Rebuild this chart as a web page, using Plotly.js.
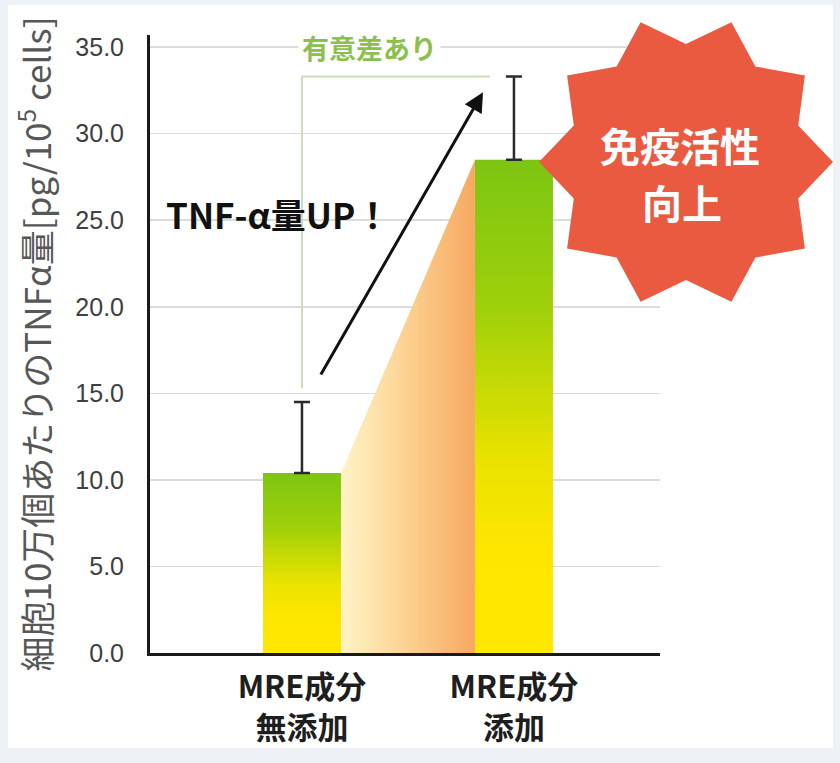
<!DOCTYPE html>
<html>
<head>
<meta charset="utf-8">
<script src="https://cdn.plot.ly/plotly-3.0.1.min.js"></script>
<style>
  html, body { margin: 0; padding: 0; background: #eef1f5; }
  #chart { position: absolute; left: 8px; top: 5px; width: 825px; height: 743px; background: #fff; }
</style>
</head>
<body>
<div id="chart"></div>
<script>
// chart values
const categories = ['MRE成分<br>無添加', 'MRE成分<br>添加'];
const tnfValues = [10.4, 28.5];
const tnfErrors = [4.1, 4.8];
const yTickVals = [0, 5, 10, 15, 20, 25, 30, 35];
const yTickText = ['0.0', '5.0', '10.0', '15.0', '20.0', '25.0', '30.0', '35.0'];
const sigLabel = '有意差あり';
const upLabel = 'TNF-α量UP！';
const starLines = ['免疫活性', '向上'];
const yTitle = '細胞10万個あたりのTNFα量[pg/10<sup>5</sup> cells]';

const FONT = '"Liberation Sans", "Noto Sans CJK JP", sans-serif';
const JP = '"Noto Sans CJK JP", sans-serif';

const xs = categories.map((c, i) => i);
const barWidth = 0.368;
const half = barWidth / 2;

// bar tops + error tops, used to hang the bracket and arrow
const errTop = tnfValues.map((v, i) => v + tnfErrors[i]);
const bracketTop = Math.max(...errTop);

const bars = {
    type: 'bar',
    x: xs,
    y: tnfValues,
    width: barWidth,
    marker: { color: '#c8dc00', line: { width: 0 } },
    error_y: {
        type: 'data',
        symmetric: false,
        array: tnfErrors,
        arrayminus: [0, 0],
        color: '#2b2b2b',
        thickness: 2.5,
        width: 8
    },
    hoverinfo: 'skip'
};

// orange wedge joining the two bars
const wedge = {
    type: 'scatter',
    mode: 'none',
    x: [xs[0] + half, xs[1] - half, xs[1] - half, xs[0] + half],
    y: [tnfValues[0], tnfValues[1], 0, 0],
    fill: 'toself',
    fillgradient: {
        type: 'horizontal',
        colorscale: [[0, '#fff4c6'], [0.5, '#fcd190'], [1, '#f6a860']]
    },
    hoverinfo: 'skip',
    showlegend: false
};

// 10 point star, pixel path around an anchor
function starPath(rOut, rIn, n) {
    let d = '';
    for (let k = 0; k < 2 * n; k++) {
        let r = k % 2 === 0 ? rOut : rIn;
        let a = (18 + k * 180 / n) * Math.PI / 180;
        let px = r * Math.sin(a);
        let py = r * Math.cos(a);
        d += (k === 0 ? 'M ' : ' L ') + px.toFixed(1) + ',' + py.toFixed(1);
    }
    return d + ' Z';
}

const layout = {
    width: 825,
    height: 743,
    margin: { l: 142, r: 173, t: 30, b: 95 },
    paper_bgcolor: '#ffffff',
    plot_bgcolor: '#ffffff',
    showlegend: false,
    xaxis: {
        range: [-0.717, 1.689],
        tickvals: xs,
        ticktext: categories,
        showgrid: false,
        zeroline: false,
        showline: true,
        linecolor: '#1a1a1a',
        linewidth: 3,
        ticks: '',
        ticklabelstandoff: 5,
        tickfont: { family: JP, size: 31, color: '#1e1e1e', weight: 'bold' }
    },
    yaxis: {
        range: [0, 35.7],
        tickvals: yTickVals,
        ticktext: yTickText,
        showgrid: true,
        gridcolor: '#dcdcdc',
        gridwidth: 1.5,
        zeroline: false,
        showline: true,
        linecolor: '#1a1a1a',
        linewidth: 3,
        ticks: '',
        ticklabelstandoff: 18,
        tickfont: { family: FONT, size: 25, color: '#404040' },
        title: {
            text: yTitle,
            font: { family: JP, size: 35, color: '#575757' },
            standoff: 34
        }
    },
    shapes: [
        {
            type: 'path',
            xref: 'x', yref: 'y',
            path: 'M ' + xs[0] + ',' + (errTop[0] + 0.8) +
                  ' L ' + xs[0] + ',' + bracketTop +
                  ' L ' + (xs[1] - 0.113) + ',' + bracketTop,
            line: { color: '#cfdbb9', width: 2 }
        },
        {
            type: 'path',
            xref: 'paper', yref: 'paper',
            xsizemode: 'pixel', ysizemode: 'pixel',
            xanchor: 1.051, yanchor: 0.7945,
            path: starPath(147, 118, 10),
            fillcolor: '#e95a40',
            line: { width: 0 },
            layer: 'above'
        }
    ],
    annotations: [
        {
            xref: 'x', yref: 'y',
            x: 0.32, y: 35,
            text: sigLabel,
            showarrow: false,
            bgcolor: '#ffffff',
            borderpad: 3,
            font: { family: JP, size: 27, color: '#8cc04e', weight: 'bold' }
        },
        {
            xref: 'x', yref: 'y', axref: 'x', ayref: 'y',
            x: 0.854, y: errTop[1] - 0.9,
            ax: 0.085, ay: errTop[0] + 1.5,
            text: '',
            showarrow: true,
            arrowhead: 2,
            arrowsize: 1.3,
            arrowwidth: 3,
            arrowcolor: '#111111'
        },
        {
            xref: 'x', yref: 'y',
            x: -0.113, y: 25.4,
            xanchor: 'center',
            text: upLabel,
            showarrow: false,
            font: { family: JP, size: 35, color: '#111111', weight: 'bold' }
        },
        {
            xref: 'paper', yref: 'paper',
            x: 1.039, y: 0.822,
            xanchor: 'center', yanchor: 'middle',
            text: starLines[0],
            showarrow: false,
            font: { family: JP, size: 40, color: '#ffffff', weight: 'bold' }
        },
        {
            xref: 'paper', yref: 'paper',
            x: 1.043, y: 0.730,
            xanchor: 'center', yanchor: 'middle',
            text: starLines[1],
            showarrow: false,
            font: { family: JP, size: 40, color: '#ffffff', weight: 'bold' }
        }
    ]
};

Plotly.newPlot('chart', [wedge, bars], layout, { displayModeBar: false, staticPlot: true }).then(gd => {
    // green -> yellow fill on the bars
    const ns = 'http://www.w3.org/2000/svg';
    const svg = gd.querySelector('.main-svg');
    let defs = svg.querySelector('defs');
    const grad = document.createElementNS(ns, 'linearGradient');
    grad.setAttribute('id', 'barGrad');
    grad.setAttribute('x1', '0'); grad.setAttribute('y1', '0');
    grad.setAttribute('x2', '0'); grad.setAttribute('y2', '1');
    [[0, '#7dc513'], [0.3, '#9fd00a'], [0.6, '#e8e200'], [0.8, '#ffe600'], [1, '#ffe800']].forEach(s => {
        const stop = document.createElementNS(ns, 'stop');
        stop.setAttribute('offset', s[0]);
        stop.setAttribute('stop-color', s[1]);
        grad.appendChild(stop);
    });
    defs.appendChild(grad);
    gd.querySelectorAll('.barlayer .point path').forEach(p => { p.style.fill = 'url(#barGrad)'; });
});
</script>
</body>
</html>
